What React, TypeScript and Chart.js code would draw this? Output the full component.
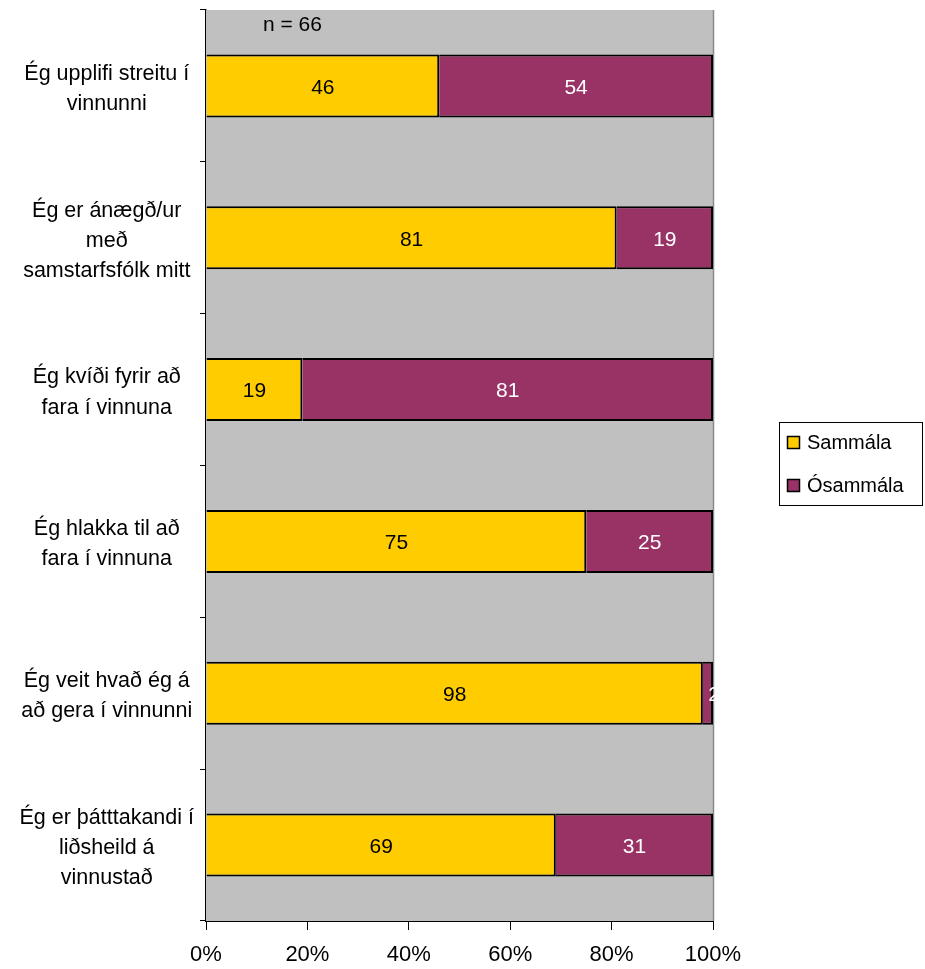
import React, { useEffect, useRef } from "react";
import { Chart, registerables } from "chart.js";

Chart.register(...registerables);

const categories: string[][] = [
  ["Ég upplifi streitu í", "vinnunni"],
  ["Ég er ánægð/ur", "með", "samstarfsfólk mitt"],
  ["Ég kvíði fyrir að", "fara í vinnuna"],
  ["Ég hlakka til að", "fara í vinnuna"],
  ["Ég veit hvað ég á", "að gera í vinnunni"],
  ["Ég er þátttakandi í", "liðsheild á", "vinnustað"],
];
const sammala = [46, 81, 19, 75, 98, 69];
const osammala = [54, 19, 81, 25, 2, 31];
const seriesNames = ["Sammála", "Ósammála"];
const seriesColors = ["#FFCC00", "#993366"];
const labelColors = ["#000000", "#FFFFFF"];
const xTicks = [0, 20, 40, 60, 80, 100];
const noteText = "n = 66";

const FONT = "'Liberation Sans', Arial, sans-serif";

export default function App() {
  const ref = useRef<HTMLCanvasElement | null>(null);

  useEffect(() => {
    document.body.style.margin = "0";
    const canvas = ref.current!;
    const plugin = {
      id: "custom",
      beforeDatasetsDraw(chart: any) {
        const { ctx, chartArea: a } = chart;
        ctx.save();
        ctx.fillStyle = "#C0C0C0";
        ctx.fillRect(a.left, a.top, a.right - a.left, a.bottom - a.top);
        ctx.strokeStyle = "#8A8A8A";
        ctx.lineWidth = 1.5;
        ctx.beginPath();
        ctx.moveTo(a.right + 0.5, a.top);
        ctx.lineTo(a.right + 0.5, a.bottom);
        ctx.stroke();
        ctx.restore();
      },
      afterDatasetsDraw(chart: any) {
        const { ctx, chartArea: a } = chart;
        ctx.save();
        ctx.font = `21px ${FONT}`;
        ctx.textAlign = "center";
        ctx.textBaseline = "middle";
        chart.data.datasets.forEach((ds: any, di: number) => {
          const meta = chart.getDatasetMeta(di);
          meta.data.forEach((bar: any, i: number) => {
            const v = ds.data[i];
            const x = (bar.x + bar.base) / 2;
            ctx.fillStyle = labelColors[di];
            let tx = x;
            if (v <= 3) tx = bar.x + 1;
            ctx.fillText(String(v), tx, bar.y + 2);
          });
        });
        // note
        ctx.fillStyle = "#000";
        ctx.textAlign = "left";
        ctx.font = `21px ${FONT}`;
        ctx.fillText(noteText, a.left + 57, a.top + 15);
        // legend
        const lx = 779, ly = 422, lw = 143, lh = 83;
        ctx.strokeStyle = "#000";
        ctx.lineWidth = 1;
        ctx.strokeRect(lx + 0.5, ly + 0.5, lw, lh);
        seriesNames.forEach((name, i) => {
          const cy = ly + 20 + i * 43;
          ctx.fillStyle = seriesColors[i];
          ctx.fillRect(lx + 8, cy - 6, 12, 12);
          ctx.strokeStyle = "#000";
          ctx.lineWidth = 1.5;
          ctx.strokeRect(lx + 8.5, cy - 5.5, 12, 12);
          ctx.fillStyle = "#000";
          ctx.textAlign = "left";
          ctx.font = `20px ${FONT}`;
          ctx.fillText(name, lx + 28, cy + 1);
        });
        ctx.restore();
      },
    };

    const ds = (i: number, data: number[]) => ({
      label: seriesNames[i],
      data,
      backgroundColor: seriesColors[i],
      borderColor: "#000",
      borderWidth: 2,
      categoryPercentage: 1,
      barPercentage: 0.415,
    });

    const chart = new Chart(canvas, {
      type: "bar",
      data: {
        labels: categories,
        datasets: [ds(0, sammala), ds(1, osammala)],
      },
      options: {
        indexAxis: "y",
        animation: false,
        responsive: false,
        maintainAspectRatio: false,
        layout: { padding: { top: 10, right: 212, bottom: 0, left: 0 } },
        plugins: { legend: { display: false }, tooltip: { enabled: false } },
        scales: {
          x: {
            stacked: true,
            min: 0,
            max: 100,
            afterBuildTicks: (s: any) => {
              s.ticks = xTicks.map((v) => ({ value: v }));
            },
            afterFit: (s: any) => {
              s.height = 48;
              s.paddingLeft = 0;
              s.paddingRight = 0;
            },
            grid: {
              drawOnChartArea: false,
              tickLength: 9,
              color: "#000",
            },
            border: { color: "#000", width: 1 },
            ticks: {
              color: "#000",
              font: { family: FONT, size: 22 },
              padding: 12,
              maxRotation: 0,
              callback: (v: any) => v + "%",
            },
          },
          y: {
            stacked: true,
            afterFit: (s: any) => {
              s.width = 206;
              s.paddingTop = 0;
              s.paddingBottom = 0;
            },
            grid: {
              drawOnChartArea: false,
              tickLength: 6,
              color: "#000",
              offset: true,
            },
            border: { color: "#000", width: 1.5 },
            ticks: {
              color: "#000",
              font: { family: FONT, size: 21.5, lineHeight: 1.4 },
              crossAlign: "center",
              padding: 6,
              labelOffset: 3,
            },
          },
        },
      },
      plugins: [plugin],
    } as any);
    return () => chart.destroy();
  }, []);

  return (
    <div style={{ position: "absolute", left: 0, top: 0 }}>
      <canvas ref={ref} width={925} height={969} style={{ width: 925, height: 969 }} />
    </div>
  );
}
